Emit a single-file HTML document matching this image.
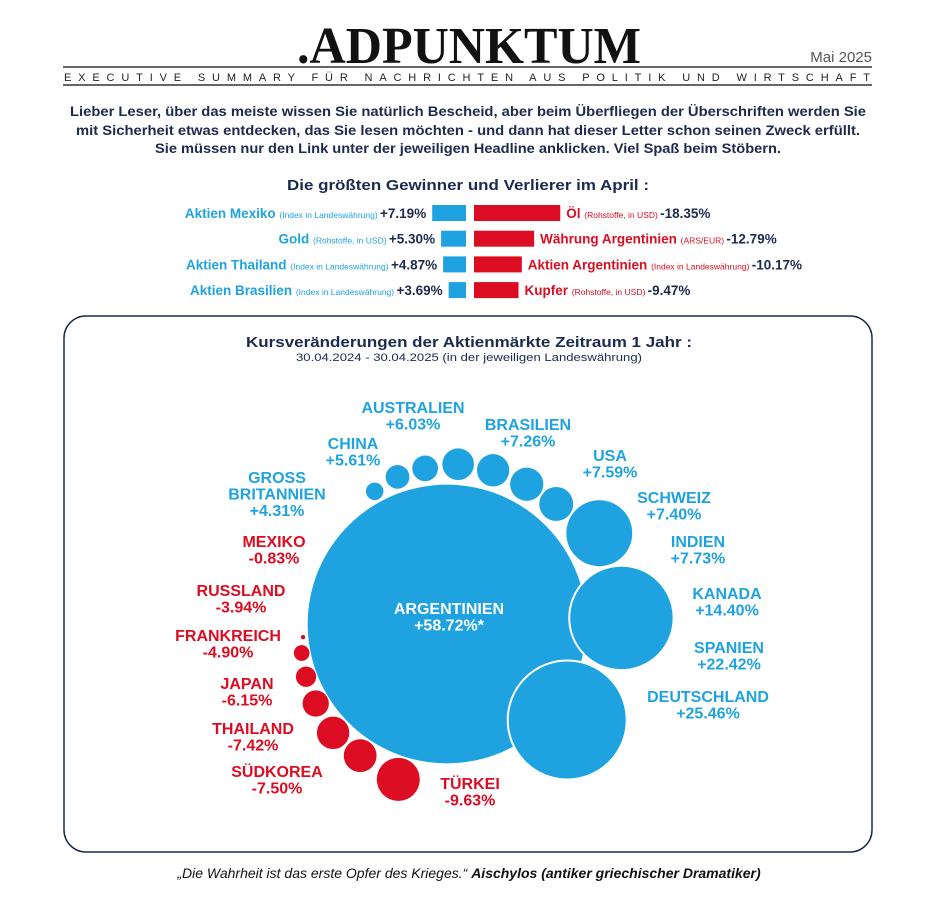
<!DOCTYPE html>
<html><head><meta charset="utf-8"><style>
body{margin:0;background:#fff;width:938px;height:916px;overflow:hidden}
svg{display:block;font-family:"Liberation Sans",sans-serif}
</style></head><body>
<svg id="pg" width="938" height="916" viewBox="0 0 938 916">
<g>
<text x="469" y="63" text-anchor="middle" font-family="Liberation Serif" font-weight="bold" font-size="52" textLength="344" lengthAdjust="spacingAndGlyphs" fill="#111">.ADPUNKTUM</text>
<text x="872" y="62" text-anchor="end" font-size="15" fill="#555">Mai 2025</text>
<line x1="63" y1="67" x2="872" y2="67" stroke="#333" stroke-width="1.5"/>
<text x="64" y="81" font-size="11" fill="#222" textLength="806" lengthAdjust="spacing">EXECUTIVE SUMMARY FÜR NACHRICHTEN AUS POLITIK UND WIRTSCHAFT</text>
<line x1="63" y1="85" x2="872" y2="85" stroke="#333" stroke-width="1.5"/>
</g>
<g fill="#1b2a4e" font-weight="bold" font-size="14" text-anchor="middle">
<text x="468" y="116" textLength="796" lengthAdjust="spacingAndGlyphs">Lieber Leser, über das meiste wissen Sie natürlich Bescheid, aber beim Überfliegen der Überschriften werden Sie</text>
<text x="468" y="135" textLength="784" lengthAdjust="spacingAndGlyphs">mit Sicherheit etwas entdecken, das Sie lesen möchten - und dann hat dieser Letter schon seinen Zweck erfüllt.</text>
<text x="468" y="153" textLength="626" lengthAdjust="spacingAndGlyphs">Sie müssen nur den Link unter der jeweiligen Headline anklicken. Viel Spaß beim Stöbern.</text>
<text x="468" y="190" font-size="15" textLength="362" lengthAdjust="spacingAndGlyphs">Die größten Gewinner und Verlierer im April :</text>
</g>
<g id="movers"></g>
<rect x="64" y="316" width="808" height="536" rx="22" fill="none" stroke="#1b2a4e" stroke-width="1.5"/>
<text x="469" y="347" text-anchor="middle" font-weight="bold" font-size="15" fill="#1b2a4e" textLength="446" lengthAdjust="spacingAndGlyphs">Kursveränderungen der Aktienmärkte Zeitraum 1 Jahr :</text>
<text x="469" y="361" text-anchor="middle" font-size="11" fill="#1b2a4e" textLength="346" lengthAdjust="spacingAndGlyphs">30.04.2024 - 30.04.2025 (in der jeweiligen Landeswährung)</text>
<g id="bubbles"></g>
<text x="469" y="878" text-anchor="middle" font-size="14" font-style="italic" fill="#111">„Die Wahrheit ist das erste Opfer des Krieges.“ <tspan font-weight="bold">Aischylos (antiker griechischer Dramatiker)</tspan></text>
</svg>
<script>
const NS="http://www.w3.org/2000/svg";
const BLUE="#1fa3e0",RED="#dc0d22",NAVY="#1b2a4e";
// movers data
const winNames=["Aktien Mexiko","Gold","Aktien Thailand","Aktien Brasilien"];
const winNotes=["(Index in Landeswährung)","(Rohstoffe, in USD)","(Index in Landeswährung)","(Index in Landeswährung)"];
const winValues=[7.19,5.30,4.87,3.69];
const loseNames=["Öl","Währung Argentinien","Aktien Argentinien","Kupfer"];
const loseNotes=["(Rohstoffe, in USD)","(ARS/EUR)","(Index in Landeswährung)","(Rohstoffe, in USD)"];
const loseValues=[-18.35,-12.79,-10.17,-9.47];
// bubble data
const countries=["ARGENTINIEN","GROSS BRITANNIEN","CHINA","AUSTRALIEN","BRASILIEN","SCHWEIZ","USA","INDIEN","KANADA","SPANIEN","DEUTSCHLAND","MEXIKO","RUSSLAND","FRANKREICH","JAPAN","THAILAND","SÜDKOREA","TÜRKEI"];
const changes=[58.72,4.31,5.61,6.03,7.26,7.40,7.59,7.73,14.40,22.42,25.46,-0.83,-3.94,-4.90,-6.15,-7.42,-7.50,-9.63];

function el(t,a,p){const e=document.createElementNS(NS,t);for(const k in a)e.setAttribute(k,a[k]);p.appendChild(e);return e;}
function fmt(v){return (v>0?"+":"")+v.toFixed(2)+"%";}

// movers
const mv=document.getElementById("movers");
const barX=v=>4.7*Math.abs(v);
const rowY=i=>213+i*25.7;
winValues.forEach((v,i)=>{
  const y=rowY(i),w=barX(v);
  const r=el("rect",{x:466-w,y:y-8,width:w,height:16,fill:BLUE},mv);
  
  
  const t=el("text",{x:466-w-6,y:y+5,"text-anchor":"end","font-weight":"bold","font-size":"13.5"},mv);
  
  
  t.innerHTML=`<tspan fill="${BLUE}">${winNames[i]} </tspan><tspan fill="${BLUE}" font-weight="normal" font-size="8.5">${winNotes[i]} </tspan><tspan fill="${NAVY}">${fmt(v)}</tspan>`;
});
loseValues.forEach((v,i)=>{
  const y=rowY(i),w=barX(v);
  const r=el("rect",{x:474,y:y-8,width:w,height:16,fill:RED},mv);
  
  
  const t=el("text",{x:474+w+6,y:y+5,"font-weight":"bold","font-size":"13.5"},mv);
  
  
  t.innerHTML=`<tspan fill="${RED}">${loseNames[i]} </tspan><tspan fill="${RED}" font-weight="normal" font-size="8.5">${loseNotes[i]} </tspan><tspan fill="${NAVY}">${fmt(v)}</tspan>`;
});

// bubbles: layout (angle deg around main bubble, gap px, label x/y)
const angles=[0,-118.6,-108.6,-98,-86,-73.3,-60.3,-47.7,-30.8,-2,38.6,174.8,168.7,159.5,148.8,136.3,123.4,107.4];
const gaps=[0,3,4,5,5,5,5,6,5,-17,-45,3,1,1,1,2,2,2];
const labX=[449,277,353,413,528,674,610,698,727,729,708,274,241,228,247,253,277,470];
const labY=[614,483,449,413,430,503,461,547,599,653,702,547,596,641,689,734,777,789];
const rScale=v=>Math.max(2.2,2.4*Math.abs(v)-1.6);
const bg=document.getElementById("bubbles");
const R0=rScale(changes[0]),cx0=447,cy0=624;
const order=[0,1,2,3,4,5,6,7,8,11,12,13,14,15,16,17,9,10];
order.forEach(i=>{
  const v=changes[i],r=rScale(v);
  let cx=cx0,cy=cy0;
  if(i>0){const a=angles[i]*Math.PI/180,d=R0+r+gaps[i];cx=cx0+d*Math.cos(a);cy=cy0+d*Math.sin(a);}
  const c=el("circle",{cx:cx,cy:cy,r:r,fill:v>=0?BLUE:RED,stroke:"#fff","stroke-width":i===9||i===10?2:0},bg);
  
  
});
countries.forEach((n,i)=>{
  const v=changes[i];
  const col=i===0?"#fff":(v>=0?BLUE:RED);
  const lines=n.split(" ");
  const t=el("text",{"text-anchor":"middle","font-weight":"bold","font-size":"16",fill:col},bg);
  
  
  let h="";
  lines.forEach((ln,k)=>{h+=`<tspan x="${labX[i]}" y="${labY[i]+k*16.5}">${ln}</tspan>`;});
  h+=`<tspan x="${labX[i]}" y="${labY[i]+lines.length*16.5}">${fmt(v)}${i===0?"*":""}</tspan>`;
  t.innerHTML=h;
});
</script>
</body></html>
